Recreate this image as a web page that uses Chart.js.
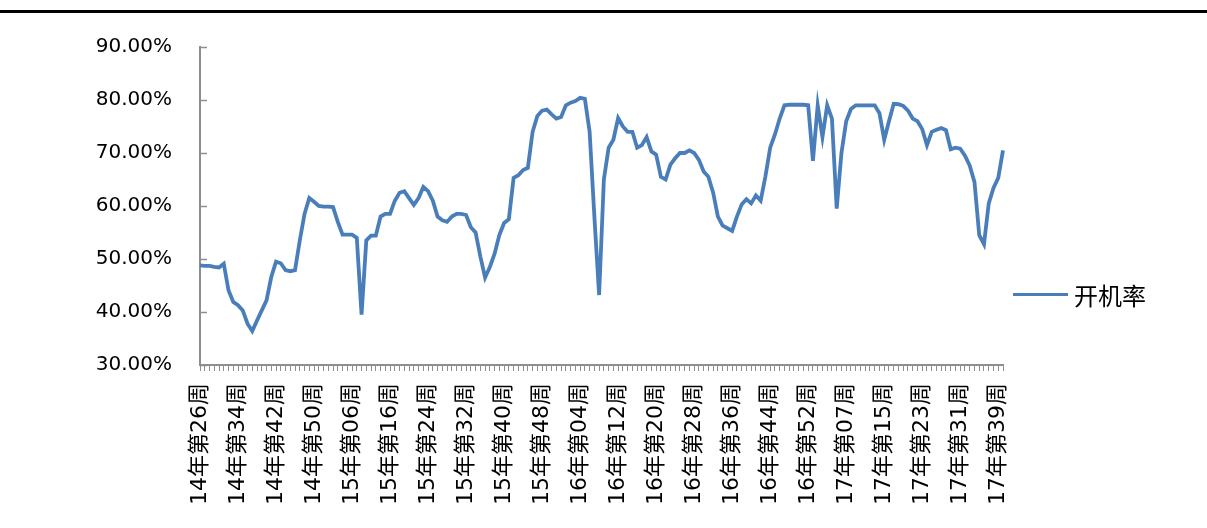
<!DOCTYPE html>
<html lang="zh-CN">
<head>
<meta charset="UTF-8">
<title>开机率</title>
<script src="https://cdn.jsdelivr.net/npm/chart.js@4.4.1/dist/chart.umd.min.js"></script>
<style>
  html, body { margin: 0; padding: 0; background: #fff; }
  #wrap { position: relative; width: 1207px; height: 528px; overflow: hidden; }
  #topLine { position: absolute; left: 0; top: 10px; width: 1207px; height: 3px; background: #000; }
  #legend { position: absolute; left: 1013px; top: 277px; display: flex; align-items: center;
            font-family: "Noto Sans CJK SC", sans-serif; font-size: 24px; color: #000; }
  #legend .swatch { width: 55px; height: 3px; margin-right: 6px; }
</style>
</head>
<body>
<div id="wrap">
  <canvas id="myChart" width="1207" height="528"></canvas>
  <div id="topLine"></div>
  <div id="legend"></div>
</div>
<script>
// 每 8 周显示一个刻度标签
const tickLabels = [
    '14年第26周', '14年第34周', '14年第42周', '14年第50周', '15年第06周', '15年第16周',
    '15年第24周', '15年第32周', '15年第40周', '15年第48周', '16年第04周', '16年第12周',
    '16年第20周', '16年第28周', '16年第36周', '16年第44周', '16年第52周', '17年第07周',
    '17年第15周', '17年第23周', '17年第31周', '17年第39周'
];
const labelStep = 8;

// 开机率 (%)，按周
const rate = [
    48.8, 48.7, 48.7, 48.5, 48.4, 49.1, 44.1, 41.9, 41.3, 40.3,
    37.8, 36.4, 38.4, 40.3, 42.2, 46.6, 49.5, 49.2, 47.9, 47.7,
    47.9, 53.5, 58.5, 61.5, 60.8, 60.0, 59.9, 59.9, 59.8, 57.0,
    54.6, 54.6, 54.6, 54.0, 39.5, 53.5, 54.4, 54.4, 58.0, 58.5,
    58.5, 61.0, 62.5, 62.8, 61.5, 60.2, 61.5, 63.6, 62.8, 61.0,
    58.0, 57.3, 57.0, 58.0, 58.5, 58.5, 58.3, 56.0, 55.0, 50.5,
    46.5, 48.5, 51.0, 54.5, 56.8, 57.5, 65.3, 65.8, 66.8, 67.2,
    74.0, 77.0, 78.0, 78.2, 77.3, 76.5, 76.8, 79.0, 79.5, 79.8,
    80.4, 80.2, 74.0, 58.0, 43.2, 65.0, 71.0, 72.5, 76.6, 75.0,
    74.0, 74.0, 71.0, 71.5, 73.0, 70.3, 69.7, 65.5, 65.0, 67.8,
    69.0, 70.0, 70.0, 70.5, 70.0, 68.7, 66.5, 65.5, 62.5, 58.0,
    56.3, 55.8, 55.3, 58.0, 60.3, 61.3, 60.5, 62.0, 61.0, 65.6,
    71.0, 73.5, 76.5, 79.0, 79.1, 79.1, 79.1, 79.1, 79.0, 68.5,
    79.0, 73.0, 79.0, 76.5, 59.5, 70.0, 76.0, 78.3, 79.0, 79.0,
    79.0, 79.0, 79.0, 77.5, 72.5, 76.0, 79.3, 79.2, 78.9, 78.0,
    76.5, 76.0, 74.5, 71.5, 74.0, 74.4, 74.7, 74.3, 70.7, 71.0,
    70.8, 69.5, 67.6, 64.5, 54.5, 52.8, 60.5, 63.4, 65.3, 70.5
];

const lineColor = '#4a7ebb';
const axisColor = '#8e8e8e';

// 类别轴：只有每第 8 个位置放文字，其余留空（刻度线照画）
const labels = rate.map((_, i) => (i % labelStep === 0 ? tickLabels[i / labelStep] : ''));

// Y 轴的刻度线画在图内侧
const innerTicks = {
    id: 'innerTicks',
    afterDraw(chart) {
        const { ctx, chartArea, scales: { y } } = chart;
        ctx.save();
        ctx.strokeStyle = axisColor;
        ctx.lineWidth = 1.5;
        y.ticks.forEach(t => {
            const py = Math.round(y.getPixelForValue(t.value)) + 0.5;
            ctx.beginPath();
            ctx.moveTo(chartArea.left, py);
            ctx.lineTo(chartArea.left + 7, py);
            ctx.stroke();
        });
        ctx.restore();
    }
};

const ctx = document.getElementById('myChart');
const rateChart = new Chart(ctx, {
    type: 'line',
    data: {
        labels: labels,
        datasets: [{
            label: '开机率',
            data: rate,
            borderColor: lineColor,
            borderWidth: 3.8,
            pointRadius: 0,
            fill: false,
            tension: 0
        }]
    },
    options: {
        responsive: false,
        animation: false,
        layout: { padding: { top: 47, right: 204, left: 0, bottom: 0 } },
        plugins: {
            legend: { display: false },
            tooltip: { enabled: false }
        },
        scales: {
            x: {
                ticks: {
                    autoSkip: false,
                    minRotation: 90,
                    maxRotation: 90,
                    padding: 12,
                    color: '#000',
                    font: { family: '"DejaVu Sans", "Noto Sans CJK SC", sans-serif', size: 22 }
                },
                grid: { display: true, drawOnChartArea: false, tickLength: 6, color: axisColor, lineWidth: 1 },
                border: { color: axisColor, width: 2 },
                afterFit: s => { s.height = 163; }
            },
            y: {
                min: 30,
                max: 90,
                ticks: {
                    stepSize: 10,
                    padding: 28,
                    color: '#000',
                    font: { family: '"DejaVu Sans", sans-serif', size: 20 },
                    callback: v => v.toFixed(2) + '%'
                },
                grid: { display: true, drawOnChartArea: false, drawTicks: false },
                border: { color: axisColor, width: 2 },
                afterFit: s => { s.width = 200; }
            }
        }
    },
    plugins: [innerTicks]
});

// 图例放在右侧偏下
const legend = document.getElementById('legend');
rateChart.data.datasets.forEach(ds => {
    legend.innerHTML += '<span class="swatch" style="background:' + ds.borderColor + '"></span><span>' + ds.label + '</span>';
});
</script>
</body>
</html>
